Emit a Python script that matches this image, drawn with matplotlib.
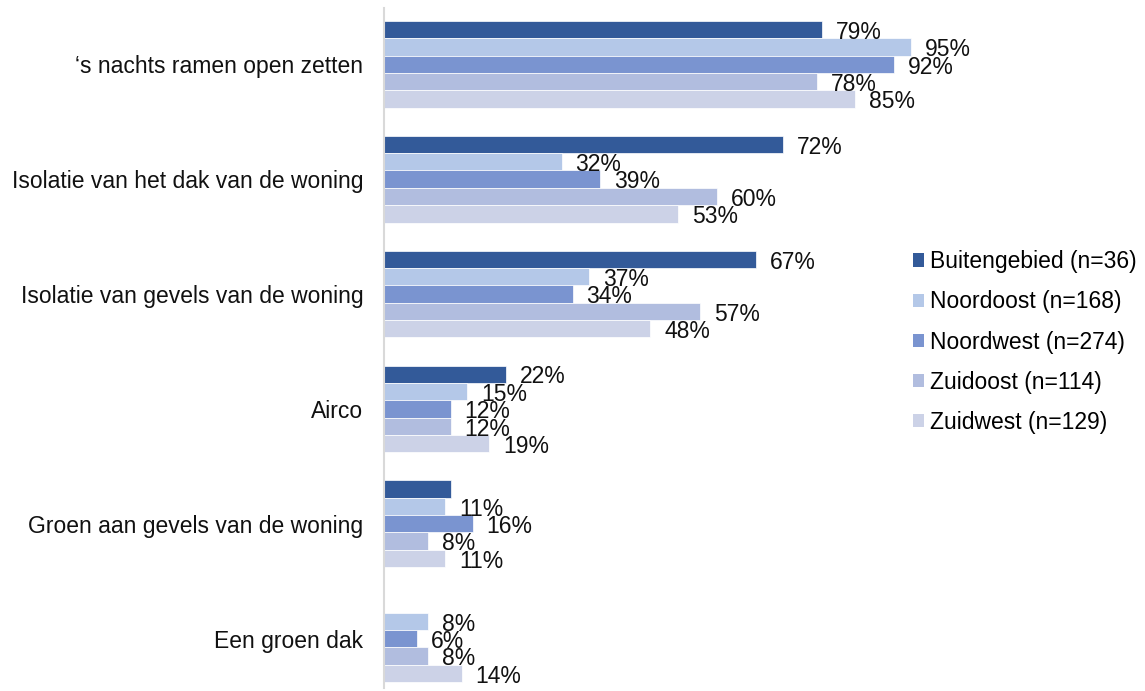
import numpy as np
import matplotlib.pyplot as plt
from matplotlib.patches import Patch

plt.rcParams['font.family'] = ['Liberation Sans', 'DejaVu Sans']

categories = ["\u2018s nachts ramen open zetten",
              "Isolatie van het dak van de woning",
              "Isolatie van gevels van de woning",
              "Airco",
              "Groen aan gevels van de woning",
              "Een groen dak"]

series = ["Buitengebied (n=36)", "Noordoost (n=168)", "Noordwest (n=274)",
          "Zuidoost (n=114)", "Zuidwest (n=129)"]

buitengebied = [79, 72, 67, 22, 12, 0]
noordoost = [95, 32, 37, 15, 11, 8]
noordwest = [92, 39, 34, 12, 16, 6]
zuidoost = [78, 60, 57, 12, 8, 8]
zuidwest = [85, 53, 48, 19, 11, 14]

# labels the source chart shows (Buitengebied misses the last two)
buitengebied_labels = ["79%", "72%", "67%", "22%", "", ""]

colors = ["#335A99", "#B4C8E8", "#7A94D0", "#B1BDDF", "#CCD2E7"]

values = [buitengebied, noordoost, noordwest, zuidoost, zuidwest]

fig = plt.figure(figsize=(11.45, 6.91), dpi=100)
ax = fig.add_axes([384 / 1145, 3 / 691, (938.7 - 384) / 1145, 680 / 691])

y = np.arange(len(categories))
h = 0.151
for j, (vals, col) in enumerate(zip(values, colors)):
    pos = y + (j - 2) * h
    ax.barh(pos, vals, height=h, color=col, edgecolor='white', linewidth=0.5)
    for i, v in enumerate(vals):
        if j == 0:
            lab = buitengebied_labels[i]
        else:
            lab = f"{v}%"
        if lab:
            ax.annotate(lab, (v, pos[i]), xytext=(10, -2), textcoords='offset points',
                        va='center', ha='left', fontsize=16.5, color='#111111')

ax.set_xlim(0, 100)
ax.set_ylim(5.43, -0.49)
ax.set_yticks(y)
ax.set_yticklabels(categories, fontsize=16.5, color='#111111')
ax.set_xticks([])
ax.tick_params(axis='y', length=0, pad=15)
for s in ['top', 'right', 'bottom']:
    ax.spines[s].set_visible(False)
ax.spines['left'].set_color('#D9D9D9')
ax.spines['left'].set_linewidth(1.5)

handles = [Patch(facecolor=c, label=s) for c, s in zip(colors, series)]
fig.legend(handles=handles, loc='center left', bbox_to_anchor=(913 / 1145, 1 - 342 / 691),
           frameon=False, fontsize=16.5, handlelength=0.5, handleheight=0.5,
           handletextpad=0.25, labelspacing=0.75, borderpad=0, borderaxespad=0)

plt.savefig('out.png', dpi=100)
